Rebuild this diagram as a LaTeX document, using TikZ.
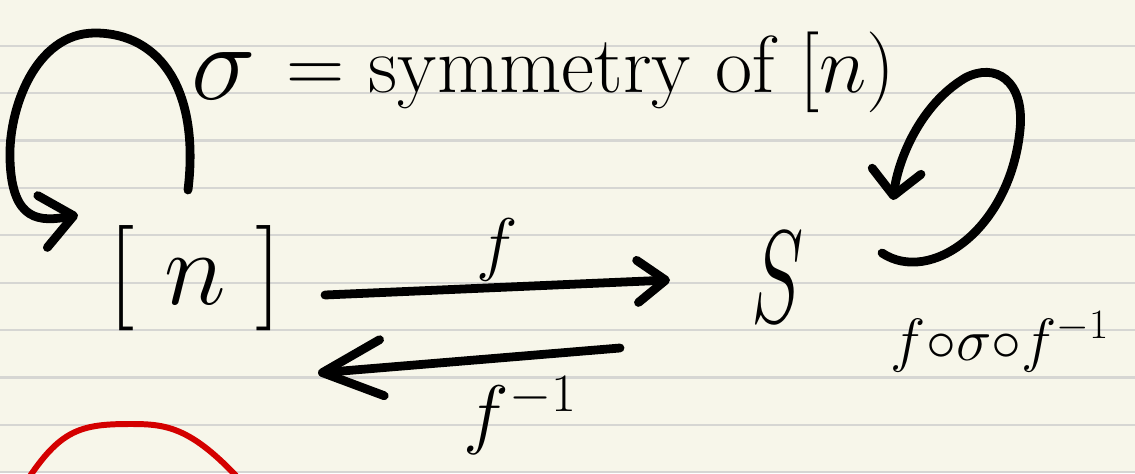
\RequirePackage{fix-cm}
\documentclass[tikz,border=0pt]{standalone}
\usepackage{tikz}
\usetikzlibrary{arrows.meta,calc,positioning}
\definecolor{paperbg}{RGB}{247,246,234}
\definecolor{ruleline}{RGB}{214,214,211}
\definecolor{inkred}{RGB}{212,0,0}

\begin{document}
\begin{tikzpicture}[x=0.02cm,y=-0.02cm,
    ink/.style={line width=5pt,line cap=round,line join=round},
    redink/.style={inkred,line width=3.4pt,line cap=round},
    hand/.style={inner sep=0pt,font=\fontsize{#1}{#1}\selectfont}]
  % the notebook page
  \useasboundingbox (0,0) rectangle (1135,473);
  \clip (0,0) rectangle (1135,473);
  \fill[paperbg] (0,0) rectangle (1135,473);
  \foreach \k in {0,...,9}
    \draw[ruleline,line width=1.3pt] (0,{45.7+47.4*\k}) -- (1135,{45.7+47.4*\k});

  % sets
  \node[hand=60] (nset) at (195,278) {$[\;n\;]$};
  \node[hand=75,xscale=0.6] (sset) at (778,277) {$S$};

  % top line
  \node[hand=62] (sigma) at (224,76) {$\sigma$};
  \node[hand=46,anchor=base west] (symm) at (286,92) {$=$ symmetry of $[n)$};

  % maps between the sets
  \draw[ink,-{Straight Barb[round,length=16pt,width=24pt]}]
    ($(nset)+(130,17)$) -- ($(sset)+(-108,3)$)
    node[hand=40,midway,above=1pt] (fmap) {$f$};
  \draw[ink,-{Straight Barb[round,length=34pt,width=32pt]}]
    ($(sset)+(-158,71)$) -- ($(nset)+(123,95)$)
    node[hand=44,pos=0.33,below=9pt] (finv) {$f^{-1}$};

  % the loops
  \coordinate (lstart) at ($(nset)+(-7,-88)$);
  \coordinate (lend) at ($(nset)+(-117,-63)$);
  \draw[ink,-{Straight Barb[round,length=18pt,width=30pt]}]
    (lstart) .. controls (200,90) and (160,33) .. (95,33)
    .. controls (35,33) and (8,110) .. (10,160)
    .. controls (12,222) and (40,222) .. (lend);
  \coordinate (rstart) at ($(sset)+(104,-24)$);
  \coordinate (rend) at ($(sset)+(115,-77)$);
  \draw[ink,-{Straight Barb[round,length=14pt,width=28pt]}]
    (rstart) .. controls (930,285) and (1010,230) .. (1020,130)
    .. controls (1025,80) and (995,62) .. (965,78)
    .. controls (920,105) and (898,160) .. (rend);
  \node[hand=34] (comp) at (1000,342) {$f{\circ}\sigma{\circ}f^{-1}$};

  % red shape cut off at the bottom
  \draw[redink] (26,482) .. controls (60,430) and (80,424) .. (130,424)
    .. controls (165,424) and (190,426) .. (240,480);
\end{tikzpicture}
\end{document}
